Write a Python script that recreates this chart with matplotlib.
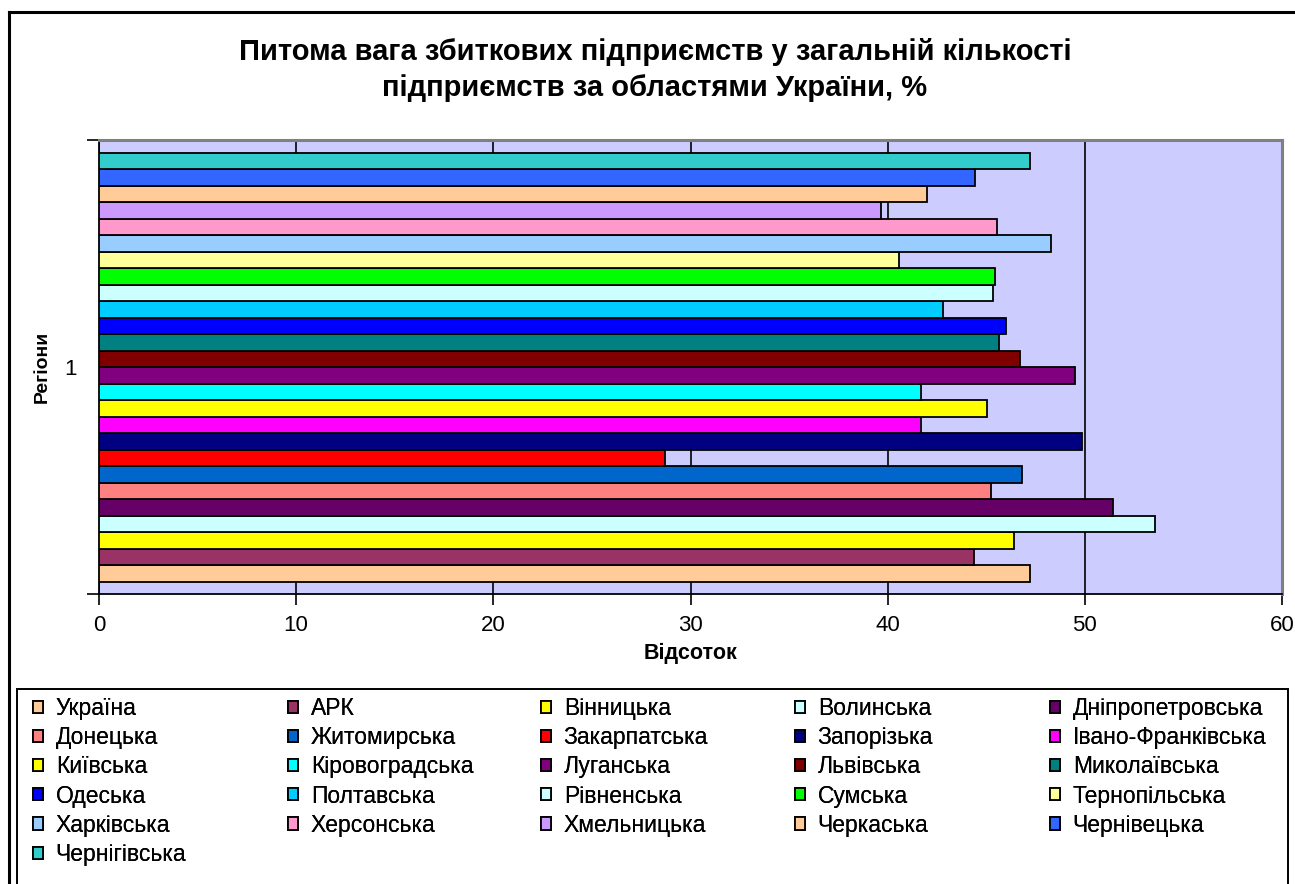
import matplotlib
matplotlib.use("Agg")
import matplotlib.pyplot as plt
from matplotlib.patches import Rectangle
import numpy as np

plt.rcParams['font.family'] = ['Liberation Sans', 'DejaVu Sans']

regions = ["Україна", "АРК", "Вінницька", "Волинська", "Дніпропетровська",
           "Донецька", "Житомирська", "Закарпатська", "Запорізька", "Івано-Франківська",
           "Київська", "Кіровоградська", "Луганська", "Львівська", "Миколаївська",
           "Одеська", "Полтавська", "Рівненська", "Сумська", "Тернопільська",
           "Харківська", "Херсонська", "Хмельницька", "Черкаська", "Чернівецька",
           "Чернігівська"]
values = [47.2, 44.4, 46.4, 53.55, 51.44,
          45.26, 46.79, 28.7, 49.84, 41.7,
          45.06, 41.7, 49.5, 46.7, 45.64,
          45.98, 42.8, 45.35, 45.46, 40.6,
          48.3, 45.55, 39.66, 42.0, 44.45,
          47.2]
colors = ["#FFCC99", "#993366", "#FFFF00", "#CCFFFF", "#660066",
          "#FF8080", "#0066CC", "#FF0000", "#000080", "#FF00FF",
          "#FFFF00", "#00FFFF", "#800080", "#800000", "#008080",
          "#0000FF", "#00CCFF", "#CCFFFF", "#00FF00", "#FFFF99",
          "#99CCFF", "#FF99CC", "#CC99FF", "#FFCC99", "#3366FF",
          "#33CCCC"]
category_label = "1"
x_ticks = [0, 10, 20, 30, 40, 50, 60]

W, H = 1295, 884
fig = plt.figure(figsize=(W / 100, H / 100), dpi=100)
fig.patch.set_facecolor("white")

# figure border (left & top visible)
fig.add_artist(plt.Line2D([8.5 / W, 8.5 / W], [0, 1 - 12 / H], color="black", lw=2.2,
                          transform=fig.transFigure))
fig.add_artist(plt.Line2D([8.5 / W, 1], [1 - 12 / H, 1 - 12 / H], color="black", lw=2.2,
                          transform=fig.transFigure))

left, right, top, bottom = 99, 1282, 140, 594
ax = fig.add_axes([left / W, 1 - bottom / H, (right - left) / W, (bottom - top) / H])
ax.set_facecolor("#CCCCFF")

n = len(values)
pos = np.arange(n)
bars = ax.barh(pos, values, height=1.0, color=colors, edgecolor="black", linewidth=1.3,
               zorder=3)

pad = 12.5 / 16.5
ax.set_ylim(-0.5 - pad, n - 0.5 + pad)
ax.set_xlim(x_ticks[0], x_ticks[-1])
ax.set_xticks(x_ticks)
ax.set_xticklabels([str(t) for t in x_ticks], fontsize=16)
ax.tick_params(axis="x", direction="out", length=8, width=1.2, pad=7, colors="black")
ax.xaxis.grid(True, color="black", linewidth=1.2, zorder=1)
ax.set_axisbelow(True)

ax.set_yticks([-0.5 - pad, n - 0.5 + pad])
ax.set_yticklabels(["", ""])
ax.set_yticks([(n - 1) / 2], minor=True)
ax.set_yticklabels([category_label], minor=True, fontsize=16)
ax.tick_params(axis="y", which="major", direction="out", length=9, width=1.2)
ax.tick_params(axis="y", which="minor", length=0, pad=16)

for s in ["left", "bottom"]:
    ax.spines[s].set_color("black")
    ax.spines[s].set_linewidth(1.3)
for s in ["top", "right"]:
    ax.spines[s].set_color("#808080")
    ax.spines[s].set_linewidth(2.2)

ax.set_xlabel("Відсоток", fontsize=15.5, fontweight="bold", labelpad=5)
ax.set_ylabel("Регіони", fontsize=14, fontweight="bold", labelpad=10)

fig.text(655 / W, 1 - 70 / H,
         "Питома вага збиткових підприємств у загальній кількості\nпідприємств за областями України, %",
         ha="center", va="center", fontsize=21, fontweight="bold", linespacing=1.33)

# legend frame
fig.add_artist(Rectangle((17 / W, -0.05), (1288 - 17) / W, 1 - 689 / H + 0.05,
                         transform=fig.transFigure, facecolor="none",
                         edgecolor="black", linewidth=1.4))

handles = bars.patches
ncols = 5
col_x = [33, 288, 541, 795, 1050]
for c in range(ncols):
    idx = list(range(c, n, ncols))
    lg = fig.legend([handles[i] for i in idx], [regions[i] for i in idx],
                    loc="upper left", bbox_to_anchor=(col_x[c] / W, 1 - 697 / H),
                    fontsize=16.5, frameon=False, handlelength=0.44, handleheight=0.44,
                    handletextpad=0.55, labelspacing=0.27, borderaxespad=0,
                    borderpad=0)
    fig.add_artist(lg)

fig.savefig("out.png", dpi=100)
